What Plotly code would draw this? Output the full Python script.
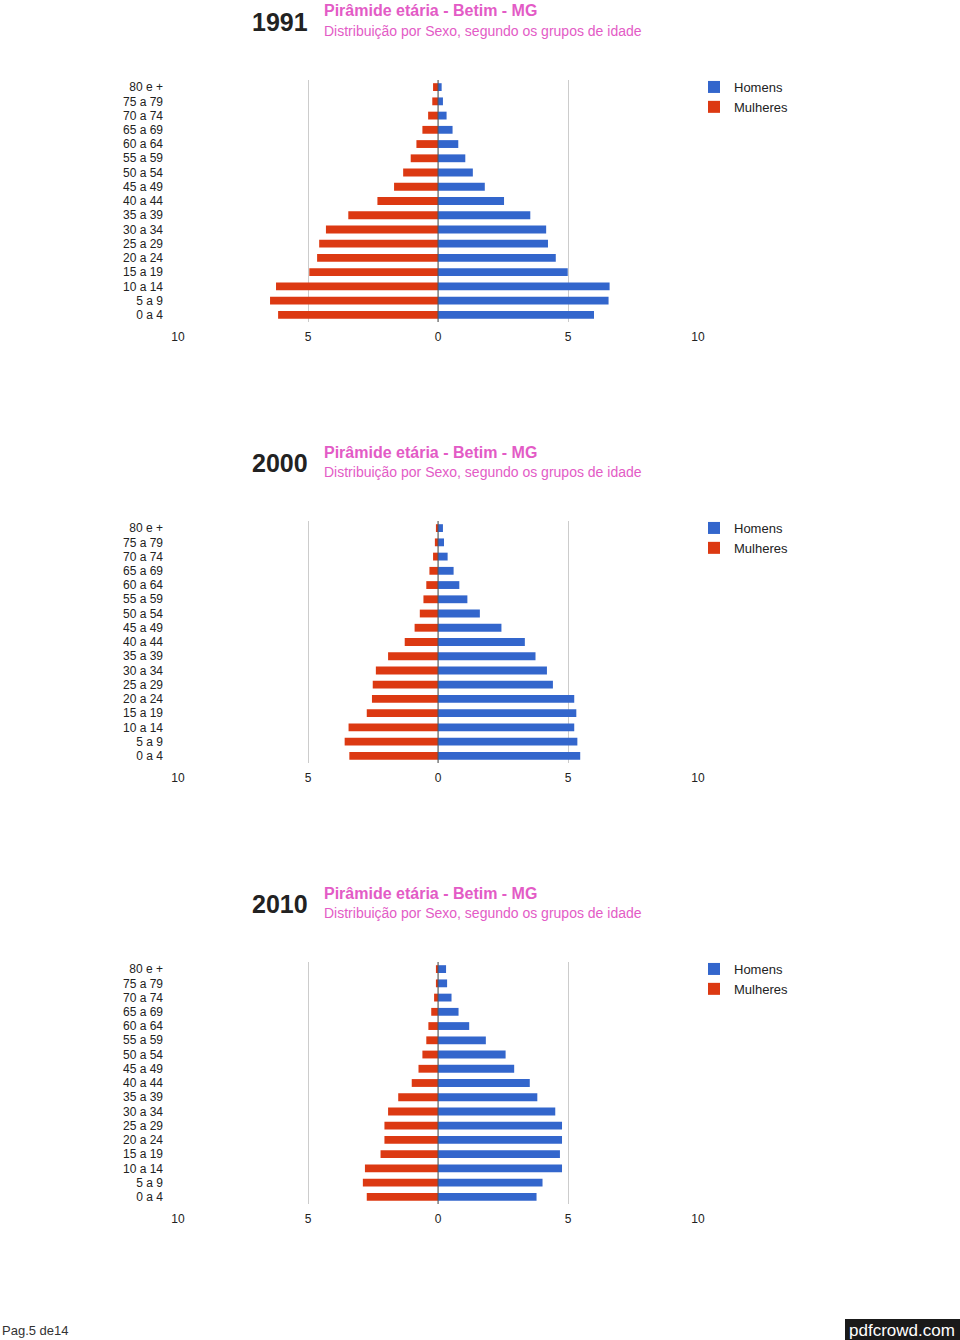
import plotly.graph_objects as go

W, H = 960, 1340

ages = ["0 a 4", "5 a 9", "10 a 14", "15 a 19", "20 a 24", "25 a 29", "30 a 34",
        "35 a 39", "40 a 44", "45 a 49", "50 a 54", "55 a 59", "60 a 64",
        "65 a 69", "70 a 74", "75 a 79", "80 e +"]

years = ["1991", "2000", "2010"]

homens_1991 = [6.00, 6.56, 6.60, 4.99, 4.53, 4.23, 4.16, 3.55, 2.54, 1.80, 1.34,
               1.05, 0.78, 0.56, 0.33, 0.19, 0.14]
mulheres_1991 = [6.15, 6.46, 6.23, 4.95, 4.65, 4.57, 4.31, 3.45, 2.33, 1.69, 1.34,
                 1.05, 0.83, 0.60, 0.38, 0.22, 0.19]

homens_2000 = [5.47, 5.36, 5.24, 5.32, 5.24, 4.42, 4.19, 3.75, 3.34, 2.44, 1.61,
               1.13, 0.82, 0.60, 0.37, 0.23, 0.19]
mulheres_2000 = [3.41, 3.59, 3.44, 2.74, 2.54, 2.51, 2.39, 1.92, 1.28, 0.90, 0.70,
                 0.56, 0.45, 0.33, 0.19, 0.12, 0.08]

homens_2010 = [3.79, 4.02, 4.77, 4.69, 4.77, 4.77, 4.51, 3.82, 3.53, 2.93, 2.60,
               1.84, 1.20, 0.79, 0.52, 0.35, 0.31]
mulheres_2010 = [2.74, 2.89, 2.81, 2.21, 2.06, 2.06, 1.92, 1.53, 1.01, 0.75, 0.60,
                 0.45, 0.37, 0.26, 0.15, 0.08, 0.08]

homens = [homens_1991, homens_2000, homens_2010]
mulheres = [mulheres_1991, mulheres_2000, mulheres_2010]

x_tickvals = [-10, -5, 0, 5, 10]
x_ticktext = ["10", "5", "0", "5", "10"]

title_text = "Pirâmide etária - Betim - MG"
subtitle_text = "Distribuição por Sexo, segundo os grupos de idade"

BLUE = "#3366cc"
RED = "#dc3912"
PINK = "#e35bc6"
FONT = "Liberation Sans, Arial, sans-serif"

fig = go.Figure()

def py(px):
    return 1 - px / H

step = 441
x_dom = [178 / W, 698 / W]

for k, yr in enumerate(years):
    sfx = "" if k == 0 else str(k + 1)
    xa, ya = "x" + sfx, "y" + sfx
    lg = "legend" + sfx
    top = 80 + step * k
    bot = 322 + step * k

    fig.add_trace(go.Bar(
        y=ages, x=homens[k], orientation="h", name="Homens",
        marker=dict(color=BLUE, line=dict(width=0)),
        xaxis=xa, yaxis=ya, legend=lg,
        customdata=homens[k],
        hovertemplate="%{y}<br>Homens: %{customdata}<extra></extra>",
    ))
    fig.add_trace(go.Bar(
        y=ages, x=[-v for v in mulheres[k]], orientation="h", name="Mulheres",
        marker=dict(color=RED, line=dict(width=0)),
        xaxis=xa, yaxis=ya, legend=lg,
        customdata=mulheres[k],
        hovertemplate="%{y}<br>Mulheres: %{customdata}<extra></extra>",
    ))

    xkey = "xaxis" + sfx
    ykey = "yaxis" + sfx
    fig.update_layout(**{
        xkey: dict(
            domain=x_dom, anchor=ya, range=[-10, 10],
            tickvals=x_tickvals, ticktext=x_ticktext,
            showgrid=True, gridcolor="#cccccc", gridwidth=1,
            zeroline=False, showline=False, ticks="",
            tickfont=dict(family=FONT, size=12, color="#222222"),
            ticklabelstandoff=6, fixedrange=True, automargin=False,
        ),
        ykey: dict(
            domain=[py(bot), py(top)], anchor=xa,
            type="category", categoryorder="array", categoryarray=ages,
            tickmode="array", tickvals=ages, ticktext=ages,
            range=[-0.5, len(ages) - 0.5],
            showgrid=False, zeroline=False, showline=False, ticks="",
            tickfont=dict(family=FONT, size=12, color="#222222"),
            ticklabelstandoff=14, fixedrange=True, automargin=False,
        ),
        lg: dict(
            x=694 / W, y=py(72 + step * k), xanchor="left", yanchor="top",
            traceorder="normal", bgcolor="rgba(0,0,0,0)",
            font=dict(family=FONT, size=13, color="#222222"),
            itemclick=False, itemdoubleclick=False,
        ),
    })

    # zero reference line above bars
    fig.add_shape(type="line", xref=xa, yref=ya + " domain",
                  x0=0, x1=0, y0=0, y1=1,
                  line=dict(color="#555555", width=1), layer="above")

    # year label
    fig.add_annotation(text="<b>" + yr + "</b>", xref="paper", yref="paper",
                       x=310 / W, y=py(22 + step * k), xanchor="right", yanchor="middle",
                       showarrow=False, font=dict(family=FONT, size=25, color="#222222"))
    fig.add_annotation(text="<b>" + title_text + "</b>", xref="paper", yref="paper",
                       x=322 / W, y=py(11 + step * k), xanchor="left", yanchor="middle",
                       showarrow=False, font=dict(family=FONT, size=16, color=PINK))
    fig.add_annotation(text=subtitle_text, xref="paper", yref="paper",
                       x=322 / W, y=py(31 + step * k), xanchor="left", yanchor="middle",
                       showarrow=False, font=dict(family=FONT, size=14, color=PINK))

# footer
fig.add_annotation(text="Pag.5 de14", xref="paper", yref="paper",
                   x=0, y=py(1330), xanchor="left", yanchor="middle",
                   showarrow=False,
                   font=dict(family="Liberation Sans Narrow, Arial Narrow, sans-serif",
                             size=13, color="#333333"))
fig.add_shape(type="rect", xref="paper", yref="paper",
              x0=845 / W, x1=1, y0=0, y1=py(1319),
              fillcolor="#1a1a1a", line=dict(width=0), layer="above")
fig.add_annotation(text="pdfcrowd.com", xref="paper", yref="paper",
                   x=902 / W, y=py(1330), xanchor="center", yanchor="middle",
                   showarrow=False,
                   font=dict(family="Liberation Sans Narrow, Arial Narrow, sans-serif",
                             size=17, color="#ffffff"))

fig.update_layout(
    width=W, height=H, margin=dict(l=0, r=0, t=0, b=0, autoexpand=False),
    paper_bgcolor="white", plot_bgcolor="white",
    barmode="overlay", bargap=0.45,
    showlegend=True,
    font=dict(family=FONT),
)

fig.write_html("out.html")
